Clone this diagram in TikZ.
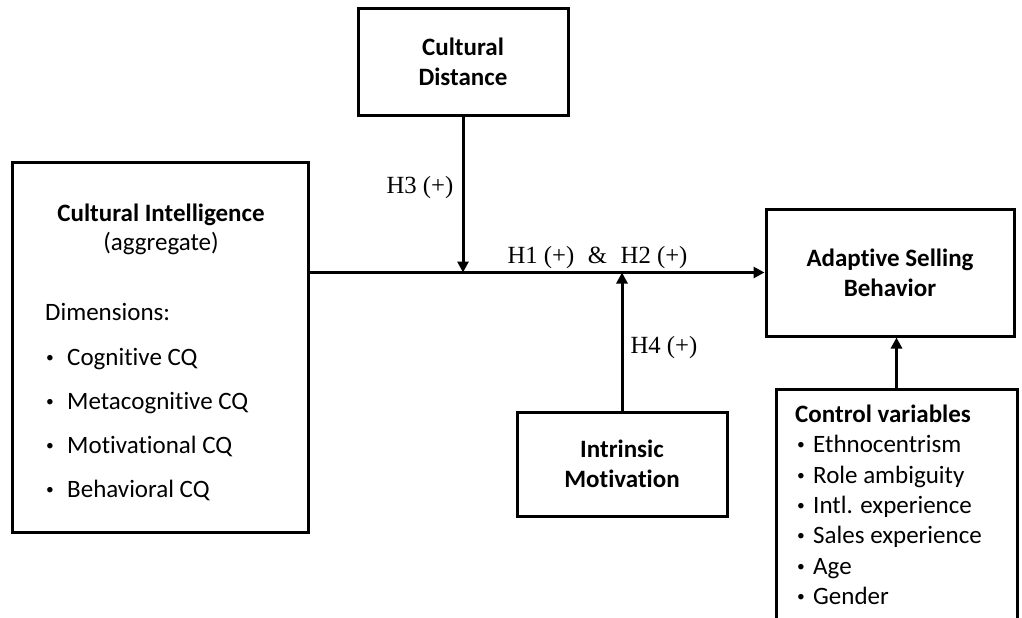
\documentclass[tikz,border=0pt]{standalone}
\usepackage{fontspec}
\setmainfont[RawFeature=-liga]{Carlito}
\newfontfamily\tnr{Liberation Serif}
\usetikzlibrary{arrows.meta}
\newcommand{\bul}{\raisebox{0.11em}{\scalebox{0.62}{•}}}
\begin{document}
\begin{tikzpicture}[x=1pt,y=-1pt,
  box/.style={draw, line width=3pt, inner sep=0pt},
  boxb/.style={box, align=center, font=\bfseries\fontsize{25}{30}\selectfont},
  conn/.style={line width=3pt, -{Triangle[length=11pt,width=11pt]}},
  lbl/.style={font=\tnr\fontsize{24.7}{28}\selectfont, inner sep=0pt, anchor=base},
  t/.style={font=\fontsize{25}{30}\selectfont, inner sep=0pt, anchor=base},
  tb/.style={t, font=\bfseries\fontsize{25}{30}\selectfont},
  item/.style={t, anchor=base west},
]
\useasboundingbox (0,0) rectangle (1022,618);
\fill[white] (0,0) rectangle (1022,618);
\clip (0,0) rectangle (1022,618);

% Cultural Intelligence box
\node[box, minimum width=296pt, minimum height=370pt] (cq) at (160,347) {};
\node[tb] (cqt) at (161,221) {Cultural Intelligence};
\node[t] (cqa) at (161,250) {(aggregate)};
\node[item] (dim) at (45,320) {Dimensions:};
\node[item] (d1) at (46,365) {\makebox[21pt][l]{\bul}Cognitive CQ};
\node[item] (d2) at (46,409) {\makebox[21pt][l]{\bul}Metacognitive CQ};
\node[item] (d3) at (46,453) {\makebox[21pt][l]{\bul}Motivational CQ};
\node[item] (d4) at (46,497) {\makebox[21pt][l]{\bul}Behavioral CQ};

% Other boxes
\node[boxb, minimum width=210pt, minimum height=106pt] (cd) at (463,62) {Cultural\\Distance};
\node[boxb, minimum width=248pt, minimum height=127pt] (asb) at (890,272.5) {Adaptive Selling\\Behavior};
\node[boxb, minimum width=210pt, minimum height=104pt] (im) at (622,464) {Intrinsic\\Motivation};

% Control variables box
\node[box, minimum width=241pt, minimum height=262pt, anchor=north] (ctrl) at (896.5,388) {};
\node[tb, anchor=base west] (cv) at (795,422) {Control variables};
\node[item] (c1) at (797,452.5) {\makebox[16pt][l]{\bul}Ethnocentrism};
\node[item] (c2) at (797,483) {\makebox[16pt][l]{\bul}Role ambiguity};
\node[item] (c3) at (797,513) {\makebox[16pt][l]{\bul}Intl. experience};
\node[item] (c4) at (797,543.5) {\makebox[16pt][l]{\bul}Sales experience};
\node[item] (c5) at (797,574) {\makebox[16pt][l]{\bul}Age};
\node[item] (c6) at (797,604) {\makebox[16pt][l]{\bul}Gender};

% Connectors
\draw[conn] (cq.east |- asb.west) -- (asb.west);
\draw[conn] (cd.south) -- (cd.south |- asb.west);
\draw[conn] (im.north) -- (im.north |- asb.west);
\draw[conn] (ctrl.north) -- (ctrl.north |- asb.south);

% Labels
\node[lbl] (h3) at (420,193) {H3 (+)};
\node[lbl] (h12) at (597.5,263) {H1 (+)\hspace{0.55em}\&\hspace{0.55em}H2 (+)};
\node[lbl] (h4) at (664,353) {H4 (+)};
\end{tikzpicture}
\end{document}
